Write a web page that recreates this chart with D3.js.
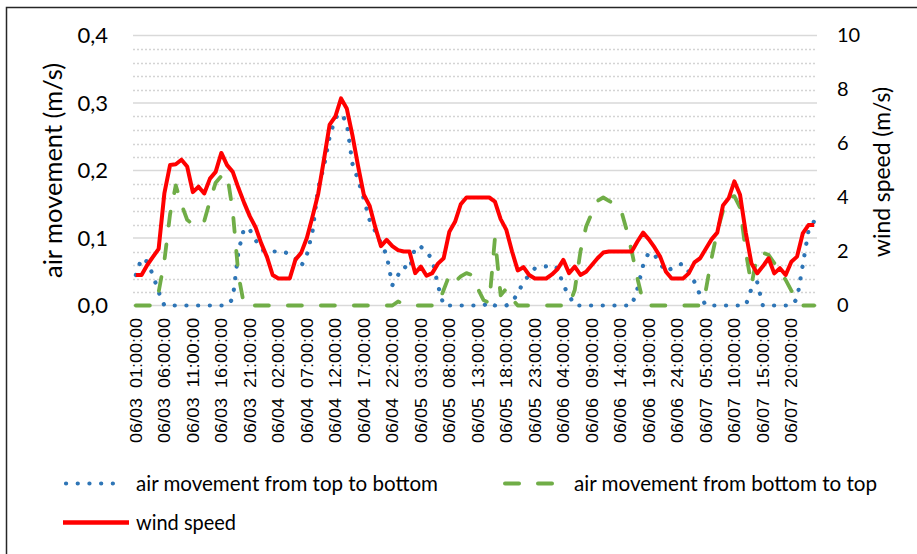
<!DOCTYPE html>
<html>
<head>
<meta charset="utf-8">
<script src="https://cdn.jsdelivr.net/npm/d3@7"></script>
<style>
  body { margin: 0; background: #fff; }
  svg { display: block; }
</style>
</head>
<body>
<svg id="chart" width="917" height="554"></svg>
<script>
// hourly categories, 5 days x 24 hours (hour 24 is used, as in the source sheet)
var days = ["06/03", "06/04", "06/05", "06/06", "06/07"];
var hours = d3.range(1, 25);

// air movement from top to bottom (m/s), left axis
var topToBottom = [
  0.045, 0.07, 0.065, 0.045, 0.02, 0, 0, 0, 0, 0, 0, 0, 0, 0, 0, 0, 0, 0.01, 0.08, 0.115,
  0.112, 0.097, 0.083, 0.08, 0.08, 0.08, 0.08, 0.075, 0.07, 0.058, 0.075, 0.11, 0.175, 0.206, 0.25, 0.278, 0.285, 0.27, 0.21, 0.186,
  0.158, 0.127, 0.11, 0.092, 0.075, 0.03, 0.045, 0.058, 0.053, 0.087, 0.087, 0.08, 0.068, 0.03, 0, 0, 0, 0, 0, 0,
  0, 0, 0.005, 0, 0, 0, 0.005, 0.018, 0.035, 0.045, 0.055, 0.057, 0.058, 0.06, 0.055, 0.03, 0.015, 0, 0, 0,
  0, 0, 0, 0, 0, 0, 0, 0, 0.025, 0.06, 0.079, 0.075, 0.062, 0.05, 0.055, 0.06, 0.062, 0.05, 0.035, 0.015,
  0, 0, 0, 0, 0, 0, 0, 0, 0.025, 0.035, 0, 0, 0, 0, 0, 0, 0.01, 0.06, 0.11, 0.125
];

// air movement from bottom to top (m/s), left axis
var bottomToTop = [
  0, 0, 0, 0, 0.02, 0.066, 0.135, 0.178, 0.15, 0.127, 0.12, 0.117, 0.125, 0.155, 0.182, 0.192, 0.195, 0.14, 0.045, 0,
  0, 0, 0, 0, 0, 0, 0, 0, 0, 0, 0, 0, 0, 0, 0, 0, 0, 0, 0, 0,
  0, 0, 0, 0, 0, 0, 0.006, 0.002, 0, 0, 0, 0, 0, 0, 0.023, 0.045, 0.035, 0.043, 0.048, 0.045,
  0.025, 0.008, 0.004, 0.1, 0.015, 0.025, 0.01, 0, 0, 0, 0, 0, 0, 0, 0, 0, 0, 0.023, 0.08, 0.117,
  0.137, 0.155, 0.16, 0.155, 0.15, 0.145, 0.115, 0.08, 0.04, 0.005, 0, 0, 0, 0, 0, 0, 0, 0, 0, 0,
  0.023, 0.07, 0.11, 0.14, 0.16, 0.162, 0.145, 0.08, 0.03, 0.075, 0.078, 0.075, 0.063, 0.05, 0.038, 0.022, 0.008, 0, 0, 0
];

// wind speed (m/s), right axis
var windSpeed = [
  1.13, 1.13, 1.5, 1.8, 2.1, 4.15, 5.2, 5.23, 5.4, 5.15, 4.2, 4.4, 4.15, 4.7, 4.95, 5.65, 5.2, 4.95, 4.35, 3.8,
  3.3, 2.9, 2.3, 1.8, 1.13, 1.0, 1.0, 1.0, 1.7, 1.95, 2.5, 3.3, 4.15, 5.4, 6.7, 7.0, 7.67, 7.3, 6.3, 5.15,
  4.1, 3.7, 2.9, 2.2, 2.43, 2.2, 2.05, 2.0, 2.0, 1.2, 1.44, 1.1, 1.2, 1.55, 1.75, 2.73, 3.1, 3.75, 4.0, 4.0,
  4.0, 4.0, 4.0, 3.85, 3.2, 2.8, 2.0, 1.3, 1.42, 1.13, 1.0, 1.0, 1.0, 1.15, 1.35, 1.69, 1.2, 1.44, 1.13, 1.25,
  1.5, 1.75, 1.96, 2.0, 2.0, 2.0, 2.0, 2.0, 2.37, 2.7, 2.45, 2.15, 1.8, 1.25, 1.0, 1.0, 1.0, 1.19, 1.6, 1.75,
  2.1, 2.45, 2.7, 3.7, 3.97, 4.6, 4.1, 2.7, 1.56, 1.19, 1.45, 1.75, 1.19, 1.38, 1.13, 1.62, 1.81, 2.67, 2.98, 2.98
];

var leftTicks = [0, 0.1, 0.2, 0.3, 0.4];
var rightTicks = [0, 2, 4, 6, 8, 10];
var labelEvery = 5;

var seriesNames = ["air movement from top to bottom", "air movement from bottom to top", "wind speed"];
var seriesColors = ["#2E75B6", "#70AD47", "#FF0000"];

var categories = [];
days.forEach(function(d) {
  hours.forEach(function(h) {
    categories.push(d + "  " + (h < 10 ? "0" + h : h) + ":00:00");
  });
});

var svg = d3.select("#chart");

// outer chart border (only top and left show in the frame)
svg.append("path")
  .attr("d", "M6.5,600 L6.5,7.5 L940,7.5")
  .attr("fill", "none")
  .attr("stroke", "#262626")
  .attr("stroke-width", 1.5);

var x = d3.scaleBand().domain(d3.range(categories.length)).range([133, 817]);
var yL = d3.scaleLinear().domain([0, 0.4]).range([305.5, 35.5]);
var yR = d3.scaleLinear().domain([0, 10]).range([305.5, 35.5]);
var cx = function(i) { return x(i) + x.bandwidth() / 2; };

// minor gridlines, dotted
var minor = d3.range(1, 20).filter(function(k) { return k % 5 != 0; }).map(function(k) { return k * 0.02; });
svg.append("g").selectAll("line")
  .data(minor)
  .enter().append("line")
  .attr("x1", 133).attr("x2", 817)
  .attr("y1", function(d) { return Math.round(yL(d)) + 0.5; })
  .attr("y2", function(d) { return Math.round(yL(d)) + 0.5; })
  .attr("stroke", "#d4d4d4")
  .attr("stroke-width", 1.5)
  .attr("stroke-dasharray", "2,2");

// major gridlines
svg.append("g").selectAll("line")
  .data(leftTicks)
  .enter().append("line")
  .attr("x1", 133).attr("x2", 817)
  .attr("y1", function(d) { return yL(d); })
  .attr("y2", function(d) { return yL(d); })
  .attr("stroke", "#d9d9d9")
  .attr("stroke-width", 1.3);

// left axis
var fmtComma = function(d) { return d3.format(".1f")(d).replace(".", ","); };
var gL = svg.append("g").attr("transform", "translate(110,0)")
  .call(d3.axisLeft(yL).tickValues(leftTicks).tickSize(0).tickPadding(2).tickFormat(fmtComma));
gL.select(".domain").remove();
gL.selectAll("text")
  .attr("font-family", "Lato, 'Liberation Sans', sans-serif")
  .attr("font-size", 22)
  .attr("fill", "#000");

// right axis
var gR = svg.append("g").attr("transform", "translate(835,0)")
  .call(d3.axisRight(yR).tickValues(rightTicks).tickSize(0).tickPadding(2));
gR.select(".domain").remove();
gR.selectAll("text")
  .attr("font-family", "Lato, 'Liberation Sans', sans-serif")
  .attr("font-size", 20)
  .attr("fill", "#000");

// category axis
var gX = svg.append("g").attr("transform", "translate(0,318)")
  .call(d3.axisBottom(x)
    .tickValues(d3.range(0, categories.length, labelEvery))
    .tickSize(0)
    .tickFormat(function(i) { return categories[i]; }));
gX.select(".domain").remove();
gX.selectAll("text")
  .attr("transform", "rotate(-90)")
  .attr("x", 0)
  .attr("y", 0)
  .attr("dy", "0.36em")
  .style("text-anchor", "end")
  .style("white-space", "pre")
  .attr("font-family", "'Liberation Sans', Arial, sans-serif")
  .attr("font-size", 17)
  .attr("textLength", 125)
  .attr("lengthAdjust", "spacingAndGlyphs")
  .attr("fill", "#000");

// axis titles
svg.append("text")
  .attr("transform", "translate(62,170.5) rotate(-90)")
  .attr("text-anchor", "middle")
  .attr("font-family", "Lato, sans-serif")
  .attr("font-size", 25)
  .attr("textLength", 215)
  .attr("lengthAdjust", "spacingAndGlyphs")
  .text("air movement (m/s)");

svg.append("text")
  .attr("transform", "translate(890,172) rotate(-90)")
  .attr("text-anchor", "middle")
  .attr("font-family", "Lato, sans-serif")
  .attr("font-size", 23)
  .attr("textLength", 170)
  .attr("lengthAdjust", "spacingAndGlyphs")
  .text("wind speed (m/s)");

// series lines
var lineL = d3.line().x(function(d, i) { return cx(i); }).y(function(d) { return yL(d); });
var lineR = d3.line().x(function(d, i) { return cx(i); }).y(function(d) { return yR(d); });

svg.append("path").datum(topToBottom)
  .attr("d", lineL)
  .attr("fill", "none")
  .attr("stroke", seriesColors[0])
  .attr("stroke-width", 4.2)
  .attr("stroke-linecap", "round")
  .attr("stroke-dasharray", "0.1,11.6");

svg.append("path").datum(bottomToTop)
  .attr("d", lineL)
  .attr("fill", "none")
  .attr("stroke", seriesColors[1])
  .attr("stroke-width", 3.8)
  .attr("stroke-linecap", "round")
  .attr("stroke-linejoin", "round")
  .attr("stroke-dasharray", "14,19");

svg.append("path").datum(windSpeed)
  .attr("d", lineR)
  .attr("fill", "none")
  .attr("stroke", seriesColors[2])
  .attr("stroke-width", 4)
  .attr("stroke-linejoin", "round");

// legend
var legendItems = [
  { x: 66, y: 483.5, len: 58, textX: 136, textLen: 302, dash: "0.1,11.6", width: 4.2, cap: "round" },
  { x: 505, y: 483.5, len: 48, textX: 574, textLen: 303, dash: "14,19", width: 4, cap: "round" },
  { x: 63, y: 522.5, len: 66, textX: 136, textLen: 100, dash: null, width: 4.5, cap: "butt" }
];
var lg = svg.append("g").selectAll("g")
  .data(legendItems)
  .enter().append("g");

lg.append("line")
  .attr("x1", function(d) { return d.x; })
  .attr("x2", function(d) { return d.x + d.len; })
  .attr("y1", function(d) { return d.y; })
  .attr("y2", function(d) { return d.y; })
  .attr("stroke", function(d, i) { return seriesColors[i]; })
  .attr("stroke-width", function(d) { return d.width; })
  .attr("stroke-linecap", function(d) { return d.cap; })
  .attr("stroke-dasharray", function(d) { return d.dash; });

lg.append("text")
  .attr("x", function(d) { return d.textX; })
  .attr("y", function(d) { return d.y + 7; })
  .attr("font-family", "Lato, sans-serif")
  .attr("font-size", 21)
  .attr("textLength", function(d) { return d.textLen; })
  .attr("lengthAdjust", "spacingAndGlyphs")
  .attr("fill", "#000")
  .text(function(d, i) { return seriesNames[i]; });
</script>
</body>
</html>
